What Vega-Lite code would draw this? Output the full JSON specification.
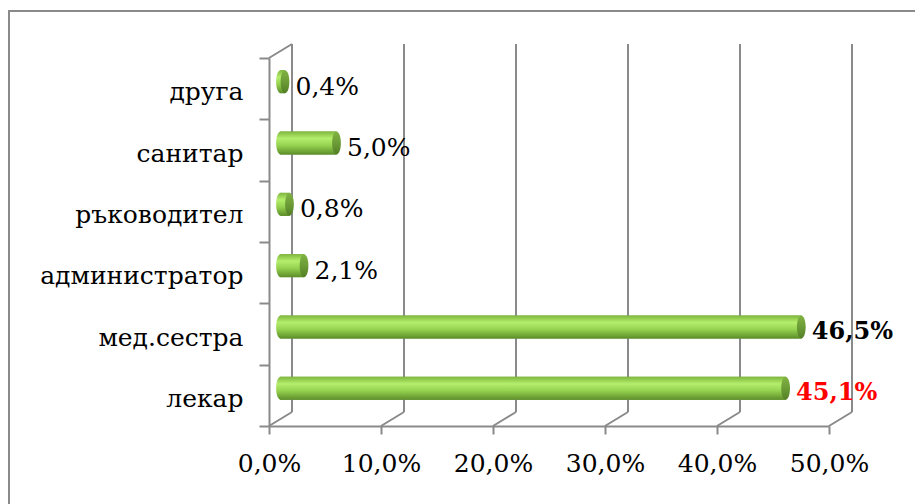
{
  "$schema": "https://vega.github.io/schema/vega-lite/v6.json",
  "width": 906,
  "height": 493,
  "autosize": {"type": "none"},
  "padding": {"left": 9, "top": 11, "right": 0, "bottom": 0},
  "background": "white",
  "title": {
    "text": "заемана длъжност",
    "font": "DejaVu Serif",
    "fontSize": 32,
    "fontWeight": "bold",
    "color": "#000000",
    "anchor": "middle",
    "offset": 0,
    "dx": 5
  },
  "config": {
    "view": {"stroke": "#8a8a8a", "strokeWidth": 2, "strokeDash": [906, 1399, 493]},
    "axis": {
      "domainColor": "#8a8a8a",
      "domainWidth": 2,
      "tickColor": "#8a8a8a",
      "tickWidth": 2,
      "labelFont": "DejaVu Serif",
      "labelFontSize": 25,
      "labelColor": "#000000",
      "grid": false
    }
  },
  "datasets": {
    "jobs": [
      {"cat": "друга", "v": 0.4},
      {"cat": "санитар", "v": 5.0},
      {"cat": "ръководител", "v": 0.8},
      {"cat": "администратор", "v": 2.1},
      {"cat": "мед.сестра", "v": 46.5},
      {"cat": "лекар", "v": 45.1}
    ],
    "ticks": [
      {"t": 0}, {"t": 10}, {"t": 20}, {"t": 30}, {"t": 40}, {"t": 50}
    ]
  },
  "layer": [
    {
      "description": "cylinder bodies, with both axes",
      "data": {"name": "jobs"},
      "mark": {
        "type": "bar",
        "size": 23,
        "xOffset": 11.5,
        "x2Offset": 11.5,
        "yOffset": -7,
        "color": {
          "gradient": "linear", "x1": 0, "y1": 0, "x2": 0, "y2": 1,
          "stops": [
            {"offset": 0, "color": "#7fb63e"},
            {"offset": 0.3, "color": "#b4ee6c"},
            {"offset": 0.6, "color": "#96d350"},
            {"offset": 1, "color": "#5c8d29"}
          ]
        }
      },
      "encoding": {
        "x": {
          "field": "v", "type": "quantitative",
          "scale": {"domain": [0, 50], "range": [260, 820], "nice": false, "zero": false},
          "axis": {
            "title": null,
            "values": [0, 10, 20, 30, 40, 50],
            "offset": -78,
            "tickSize": 8,
            "labelPadding": 17,
            "labelOverlap": false,
            "labelFlush": false,
            "labelFont": "DejaVu Serif",
            "labelExpr": "replace(format(datum.value, '.1f'), '.', ',') + '%'"
          }
        },
        "y": {
          "field": "cat", "type": "nominal",
          "scale": {"domain": ["друга", "санитар", "ръководител", "администратор", "мед.сестра", "лекар"], "range": [47, 415], "paddingInner": 0, "paddingOuter": 0},
          "axis": {"title": null, "offset": -260, "tickSize": 10, "tickBand": "extent", "labelPadding": 16, "labelOffset": 3, "labelLimit": 300, "labelOverlap": false, "labelFont": "DejaVu Serif"}
        }
      }
    },
    {
      "description": "back wall gridlines",
      "data": {"name": "ticks"},
      "mark": {"type": "rule", "color": "#8a8a8a", "strokeWidth": 2, "xOffset": 23, "yOffset": -14, "y2Offset": -14},
      "encoding": {
        "x": {"field": "t", "type": "quantitative"},
        "y": {"datum": "друга", "type": "nominal", "bandPosition": 0},
        "y2": {"datum": "лекар", "bandPosition": 1}
      }
    },
    {
      "description": "top edge of the side wall",
      "data": {"name": "ticks"},
      "transform": [{"filter": "datum.t === 0"}],
      "mark": {"type": "rule", "color": "#8a8a8a", "strokeWidth": 2, "x2Offset": 23, "y2Offset": -14},
      "encoding": {
        "x": {"field": "t", "type": "quantitative"},
        "x2": {"field": "t"},
        "y": {"datum": "друга", "type": "nominal", "bandPosition": 0},
        "y2": {"datum": "друга", "bandPosition": 0}
      }
    },
    {
      "description": "floor edges running back from each tick",
      "data": {"name": "ticks"},
      "mark": {"type": "rule", "color": "#8a8a8a", "strokeWidth": 2, "x2Offset": 23, "y2Offset": -14},
      "encoding": {
        "x": {"field": "t", "type": "quantitative"},
        "x2": {"field": "t"},
        "y": {"datum": "лекар", "type": "nominal", "bandPosition": 1},
        "y2": {"datum": "лекар", "bandPosition": 1}
      }
    },
    {
      "description": "cylinder bodies drawn again above the back wall lines",
      "data": {"name": "jobs"},
      "mark": {
        "type": "bar",
        "size": 23,
        "xOffset": 11.5,
        "x2Offset": 11.5,
        "yOffset": -7,
        "color": {
          "gradient": "linear", "x1": 0, "y1": 0, "x2": 0, "y2": 1,
          "stops": [
            {"offset": 0, "color": "#7fb63e"},
            {"offset": 0.3, "color": "#b4ee6c"},
            {"offset": 0.6, "color": "#96d350"},
            {"offset": 1, "color": "#5c8d29"}
          ]
        }
      },
      "encoding": {
        "x": {"field": "v", "type": "quantitative"},
        "y": {"field": "cat", "type": "nominal"}
      }
    },
    {
      "description": "left ends of the cylinders",
      "data": {"name": "jobs"},
      "mark": {
        "type": "point",
        "filled": true,
        "opacity": 1,
        "strokeWidth": 0,
        "size": 529,
        "shape": "M0,-1 A0.38,1 0 1,1 0,1 A0.38,1 0 1,1 0,-1 Z",
        "xOffset": 11.5,
        "yOffset": -7,
        "color": {
          "gradient": "linear", "x1": 0, "y1": 0, "x2": 0, "y2": 1,
          "stops": [
            {"offset": 0, "color": "#7fb63e"},
            {"offset": 0.3, "color": "#b4ee6c"},
            {"offset": 0.6, "color": "#96d350"},
            {"offset": 1, "color": "#5c8d29"}
          ]
        }
      },
      "encoding": {
        "x": {"datum": 0, "type": "quantitative"},
        "y": {"field": "cat", "type": "nominal"}
      }
    },
    {
      "description": "right end caps of the cylinders",
      "data": {"name": "jobs"},
      "mark": {
        "type": "point",
        "filled": true,
        "opacity": 1,
        "strokeWidth": 0,
        "size": 529,
        "shape": "M0,-1 A0.38,1 0 1,1 0,1 A0.38,1 0 1,1 0,-1 Z",
        "xOffset": 11.5,
        "yOffset": -7,
        "color": {
          "gradient": "linear", "x1": 0, "y1": 0, "x2": 0, "y2": 1,
          "stops": [
            {"offset": 0, "color": "#80b244"},
            {"offset": 0.5, "color": "#6c9c36"},
            {"offset": 1, "color": "#527f26"}
          ]
        }
      },
      "encoding": {
        "x": {"field": "v", "type": "quantitative"},
        "y": {"field": "cat", "type": "nominal"}
      }
    },
    {
      "description": "value labels for the small shares",
      "data": {"name": "jobs"},
      "transform": [
        {"filter": "datum.v < 40"},
        {"calculate": "replace(format(datum.v, '.1f'), '.', ',') + '%'", "as": "label"}
      ],
      "mark": {"type": "text", "align": "left", "baseline": "middle", "font": "DejaVu Serif", "fontSize": 25, "xOffset": 22, "yOffset": -2},
      "encoding": {
        "x": {"field": "v", "type": "quantitative"},
        "y": {"field": "cat", "type": "nominal"},
        "text": {"field": "label"},
        "color": {"value": "#000000"}
      }
    },
    {
      "description": "value labels for the two main groups",
      "data": {"name": "jobs"},
      "transform": [
        {"filter": "datum.v >= 40"},
        {"calculate": "replace(format(datum.v, '.1f'), '.', ',') + '%'", "as": "label"}
      ],
      "mark": {"type": "text", "align": "left", "baseline": "middle", "font": "DejaVu Serif", "fontSize": 24, "fontWeight": "bold", "xOffset": 22, "yOffset": -2},
      "encoding": {
        "x": {"field": "v", "type": "quantitative"},
        "y": {"field": "cat", "type": "nominal"},
        "text": {"field": "label"},
        "color": {"condition": {"test": "datum.cat === 'лекар'", "value": "#ff0000"}, "value": "#000000"}
      }
    }
  ]
}
